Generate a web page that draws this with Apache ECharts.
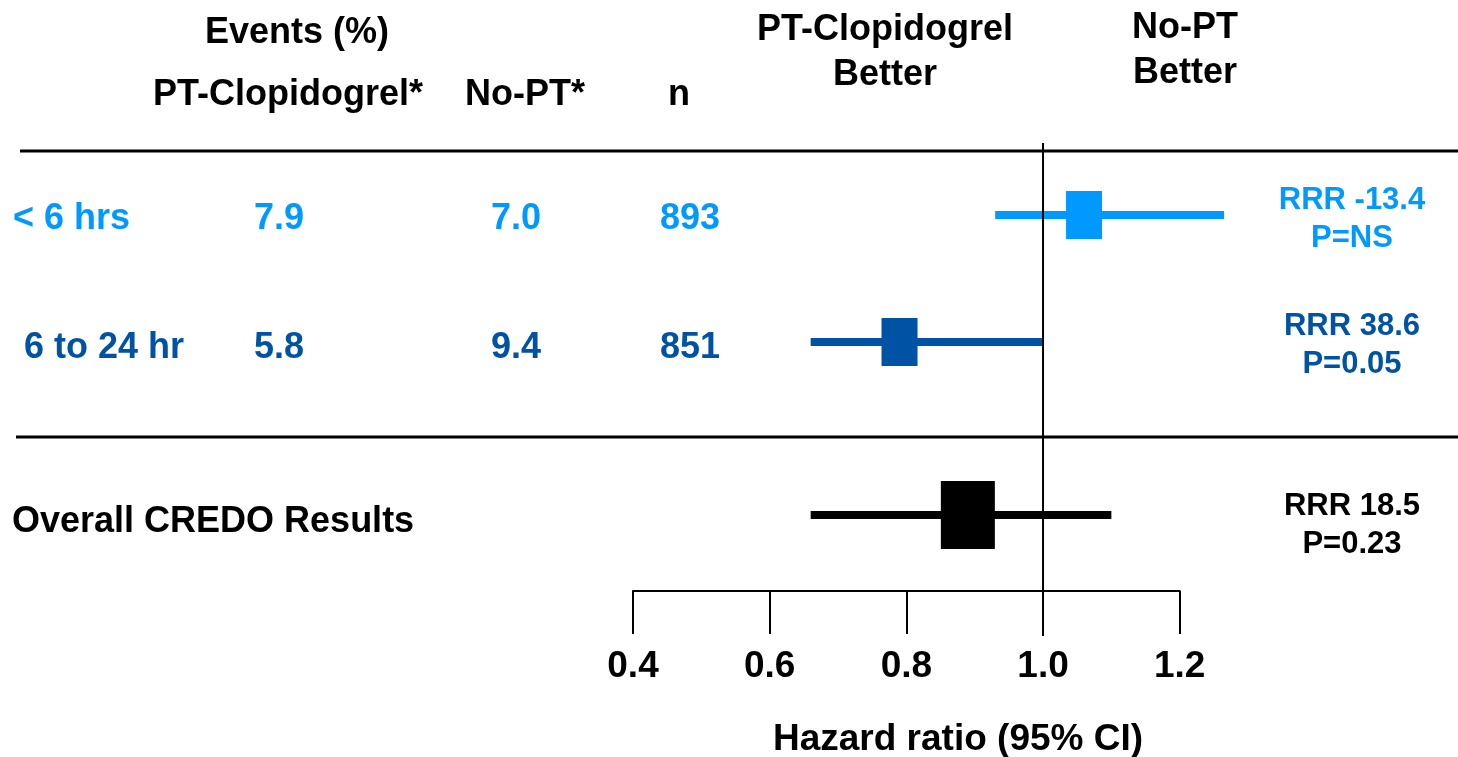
<!DOCTYPE html>
<html><head><meta charset="utf-8">
<script src="https://cdn.jsdelivr.net/npm/echarts@6/dist/echarts.min.js"></script>
<style>html,body{margin:0;padding:0;background:#fff}#c{width:1458px;height:757px}</style>
</head><body><div id="c"></div>
<script>
// ---------------- data ----------------
const subgroups = ['< 6 hrs', '6 to 24 hr'];
const overallLabel = ['Overall CREDO Results'];
const ptEvents = ['7.9', '5.8'];
const noPtEvents = ['7.0', '9.4'];
const nValues = ['893', '851'];
const hrPoint = [1.06, 0.79];
const hrLow = [0.93, 0.66];
const hrHigh = [1.265, 1.0];
const overallPoint = [0.89];
const overallLow = [0.66];
const overallHigh = [1.10];
const rrrText = ['RRR -13.4\nP=NS', 'RRR 38.6\nP=0.05'];
const overallRrr = ['RRR 18.5\nP=0.23'];
const xTicks = [0.4, 0.6, 0.8, 1.0, 1.2];
const refValue = [1.0];

// ---------------- styles ----------------
const rowColors = ['#0099FF', '#0052A5'];
const overallColor = '#000000';
const FONT = '"Liberation Sans", Arial, Helvetica, sans-serif';
const f = (s) => 'bold ' + s + 'px ' + FONT;

const chart = echarts.init(document.getElementById('c'), null, {renderer: 'canvas'});

const axisMin = xTicks[0], axisMax = xTicks[xTicks.length - 1];
const step = xTicks[1] - xTicks[0];
const gridLeft = 633, gridRight = 1458 - 1179.7;

function forestRender(boxW, boxH, colorFn) {
  return function (params, api) {
    const cat = api.value(0);
    const lo = api.coord([api.value(1), cat]);
    const hi = api.coord([api.value(2), cat]);
    const pt = api.coord([api.value(3), cat]);
    const color = colorFn(params.dataIndex);
    return {
      type: 'group',
      children: [
        {type: 'rect', shape: {x: lo[0], y: lo[1] - 4, width: hi[0] - lo[0], height: 8}, style: {fill: color}},
        {type: 'rect', shape: {x: pt[0] - boxW / 2, y: pt[1] - boxH / 2, width: boxW, height: boxH}, style: {fill: color}}
      ]
    };
  };
}

const subData = subgroups.map((s, i) => [i, hrLow[i], hrHigh[i], hrPoint[i]]);
const overallData = overallLabel.map((s, i) => [i, overallLow[i], overallHigh[i], overallPoint[i]]);

const graphics = [];
function txt(text, x, y, size, color, align, extra) {
  graphics.push({type: 'text', silent: true, style: Object.assign({
    text: text, x: x, y: y, font: f(size), fill: color,
    textAlign: align || 'center', textVerticalAlign: 'middle'
  }, extra || {})});
}
// headers
txt('Events (%)', 297, 33, 36, '#000');
txt('PT-Clopidogrel*', 288, 95, 36, '#000');
txt('No-PT*', 525, 95, 36, '#000');
txt('n', 679, 95, 36, '#000');
txt('PT-Clopidogrel\nBetter', 885, 53, 36, '#000', 'center', {lineHeight: 45});
txt('No-PT\nBetter', 1185, 51, 36, '#000', 'center', {lineHeight: 45});
// rows
const rowTextY = [219.5, 348];
const rowLabelX = [13, 24];
subgroups.forEach((s, i) => {
  txt(s, rowLabelX[i], rowTextY[i], 36, rowColors[i], 'left');
  txt(ptEvents[i], 279, rowTextY[i], 36, rowColors[i]);
  txt(noPtEvents[i], 516, rowTextY[i], 36, rowColors[i]);
  txt(nValues[i], 690, rowTextY[i], 36, rowColors[i]);
  txt(rrrText[i], 1352, [219, 345.5][i], 31, rowColors[i], 'center', {lineHeight: 38});
});
txt(overallLabel[0], 12, 522, 36, overallColor, 'left');
txt(overallRrr[0], 1352, 525, 31, overallColor, 'center', {lineHeight: 38});
txt('Hazard ratio (95% CI)', 958, 740, 37, '#000');
// separator lines
graphics.push({type: 'line', silent: true, shape: {x1: 20, y1: 151, x2: 1458, y2: 151}, style: {stroke: '#000', lineWidth: 3}});
graphics.push({type: 'line', silent: true, shape: {x1: 16, y1: 437, x2: 1458, y2: 437}, style: {stroke: '#000', lineWidth: 3}});

const option = {
  backgroundColor: '#ffffff',
  animation: false,
  grid: [
    {left: gridLeft, right: gridRight, top: 151.5, height: 254},
    {left: gridLeft, right: gridRight, top: 439, height: 152}
  ],
  xAxis: [
    {gridIndex: 0, type: 'value', min: axisMin, max: axisMax, interval: step, show: false},
    {gridIndex: 1, type: 'value', min: axisMin, max: axisMax, interval: step,
      axisLine: {show: true, onZero: false, lineStyle: {color: '#000', width: 2}},
      axisTick: {show: true, length: 43, lineStyle: {color: '#000', width: 2}},
      axisLabel: {show: true, margin: 57, color: '#000', fontSize: 37, fontWeight: 'bold', fontFamily: FONT,
        formatter: (v) => v.toFixed(1)},
      splitLine: {show: false}}
  ],
  yAxis: [
    {gridIndex: 0, type: 'category', data: subgroups, inverse: true, show: false},
    {gridIndex: 1, type: 'category', data: overallLabel, inverse: true, show: false}
  ],
  series: [
    {type: 'custom', xAxisIndex: 0, yAxisIndex: 0, data: subData, z: 2,
      encode: {x: [1, 2, 3], y: 0},
      renderItem: forestRender(36, 48, (i) => rowColors[i])},
    {type: 'custom', xAxisIndex: 1, yAxisIndex: 1, data: overallData, z: 2,
      encode: {x: [1, 2, 3], y: 0},
      renderItem: forestRender(54, 68, () => overallColor)},
    {type: 'custom', xAxisIndex: 1, yAxisIndex: 1, data: refValue.map(v => [v]), z: 5,
      encode: {x: 0},
      renderItem: function (params, api) {
        const x = api.coord([api.value(0), 0])[0];
        return {type: 'line', shape: {x1: x, y1: 143, x2: x, y2: 636}, style: {stroke: '#000', lineWidth: 2}};
      }}
  ],
  graphic: graphics
};
chart.setOption(option);
</script>
</body></html>
